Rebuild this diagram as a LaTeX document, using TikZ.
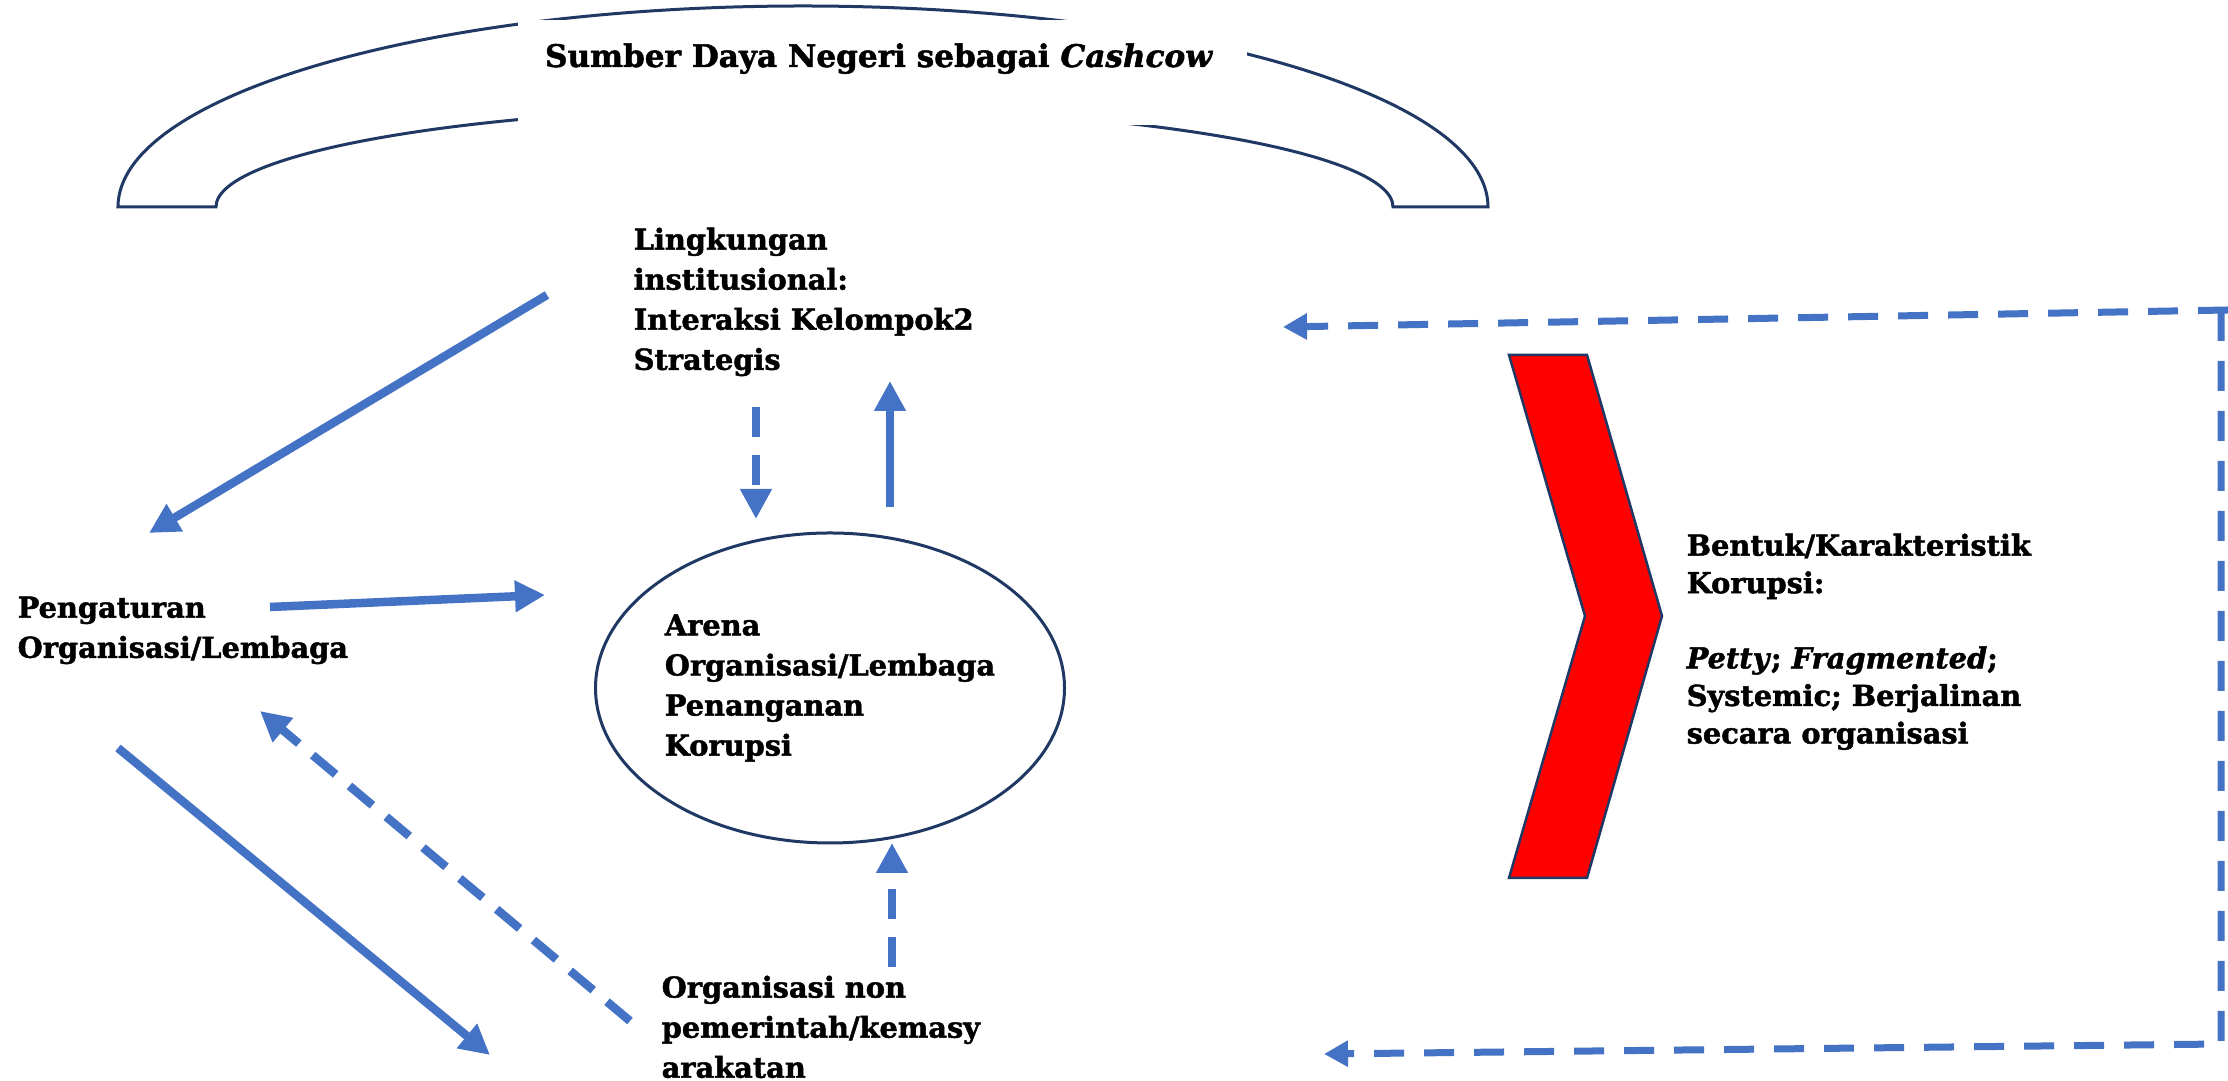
\documentclass[tikz,border=0pt]{standalone}
\usepackage{fontspec}
\setmainfont{DejaVu Serif}[BoldFeatures={FakeBold=1.6}, BoldItalicFeatures={FakeBold=1.6}]
\usetikzlibrary{arrows.meta,shapes.geometric}
\definecolor{arrowblue}{HTML}{4472C4}
\definecolor{navyline}{HTML}{203864}
\definecolor{chevronred}{HTML}{FF0000}

\begin{document}
\begin{tikzpicture}[
  txt/.style={anchor=north west, inner sep=0pt, align=left, font=\bfseries\fontsize{8.2}{11.4}\selectfont},
  flow/.style={arrowblue, line width=0.85mm, -{Triangle[width=3mm,length=3mm]}},
  flowdash/.style={flow, dash pattern=on 3mm off 1.8mm},
  feedback/.style={arrowblue, line width=0.7mm, dash pattern=on 3mm off 2mm, -{Triangle[width=2.5mm,length=2.4mm]}},
  ]
\useasboundingbox (0,0) rectangle (22.28,-10.81);
% arch
\filldraw[fill=white, draw=navyline, line width=0.3mm]
  (1.18,-2.07) arc[start angle=180, end angle=0, x radius=6.85, y radius=2.01]
  -- (13.93,-2.07) arc[start angle=0, end angle=180, x radius=5.885, y radius=1.0] -- cycle;
\fill[white] (5.18,-0.2) rectangle (12.47,-1.25);
\node[anchor=base, inner sep=0pt, font=\bfseries\fontsize{8.85}{10}\selectfont] (cashcow) at (8.79,-0.67)
  {Sumber Daya Negeri sebagai \textit{Cashcow}};
% nodes
\node[txt] (lingkungan) at (6.33,-2.27) {Lingkungan\\institusional:\\Interaksi Kelompok2\\Strategis};
\node[txt] (pengaturan) at (0.17,-5.96) {Pengaturan\\Organisasi/Lembaga};
\node[draw=navyline, line width=0.3mm, ellipse, inner sep=0pt, minimum width=4.69cm, minimum height=3.1cm,
  align=left, font=\bfseries\fontsize{8.2}{11.4}\selectfont] (arena) at (8.3,-6.88)
  {Arena\\Organisasi/Lembaga\\Penanganan\\Korupsi};
\node[txt] (ornop) at (6.61,-9.75) {Organisasi non\\pemerintah/kemasy\\arakatan};
\node[txt, font=\bfseries\fontsize{8.2}{10.7}\selectfont] (bentuk) at (16.86,-5.33)
  {Bentuk/Karakteristik\\Korupsi:\\[3.75mm]\textit{Petty}; \textit{Fragmented};\\Systemic; Berjalinan\\secara organisasi};
% chevron
\filldraw[fill=chevronred, draw=navyline, line width=0.25mm]
  (15.09,-3.55) -- (15.87,-3.55) -- (16.62,-6.16) -- (15.87,-8.78) -- (15.09,-8.78) -- (15.85,-6.16) -- cycle;
% arrow ends
\coordinate (l1) at (5.47,-2.95);  \coordinate (p1) at (1.49,-5.33);
\coordinate (p2) at (2.70,-6.07);  \coordinate (a2) at (5.45,-5.95);
\coordinate (l3) at (7.56,-4.07);  \coordinate (a3) at (7.56,-5.19);
\coordinate (a4) at (8.90,-5.07);  \coordinate (l4) at (8.90,-3.81);
\coordinate (p5) at (1.18,-7.48);  \coordinate (o5) at (4.90,-10.55);
\coordinate (o6) at (6.30,-10.21); \coordinate (p6) at (2.60,-7.11);
\coordinate (o7) at (8.92,-9.67);  \coordinate (a7) at (8.92,-8.43);
\coordinate (fbtop) at (22.21,-3.11); \coordinate (fbbot) at (22.21,-10.44);
\coordinate (fbl) at (12.83,-3.27); \coordinate (fbo) at (13.24,-10.54);
% arrows
\draw[flow] (l1) -- (p1);
\draw[flow] (p2) -- (a2);
\draw[flowdash] (l3) -- (a3);
\draw[flow] (a4) -- (l4);
\draw[flow] (p5) -- (o5);
\draw[flowdash] (o6) -- (p6);
\draw[flowdash] (o7) -- (a7);
% feedback
\draw[feedback] (22.28,-3.10) -- (fbl);
\draw[feedback] (fbtop) -- (fbbot) -- (fbo);
\end{tikzpicture}
\end{document}
